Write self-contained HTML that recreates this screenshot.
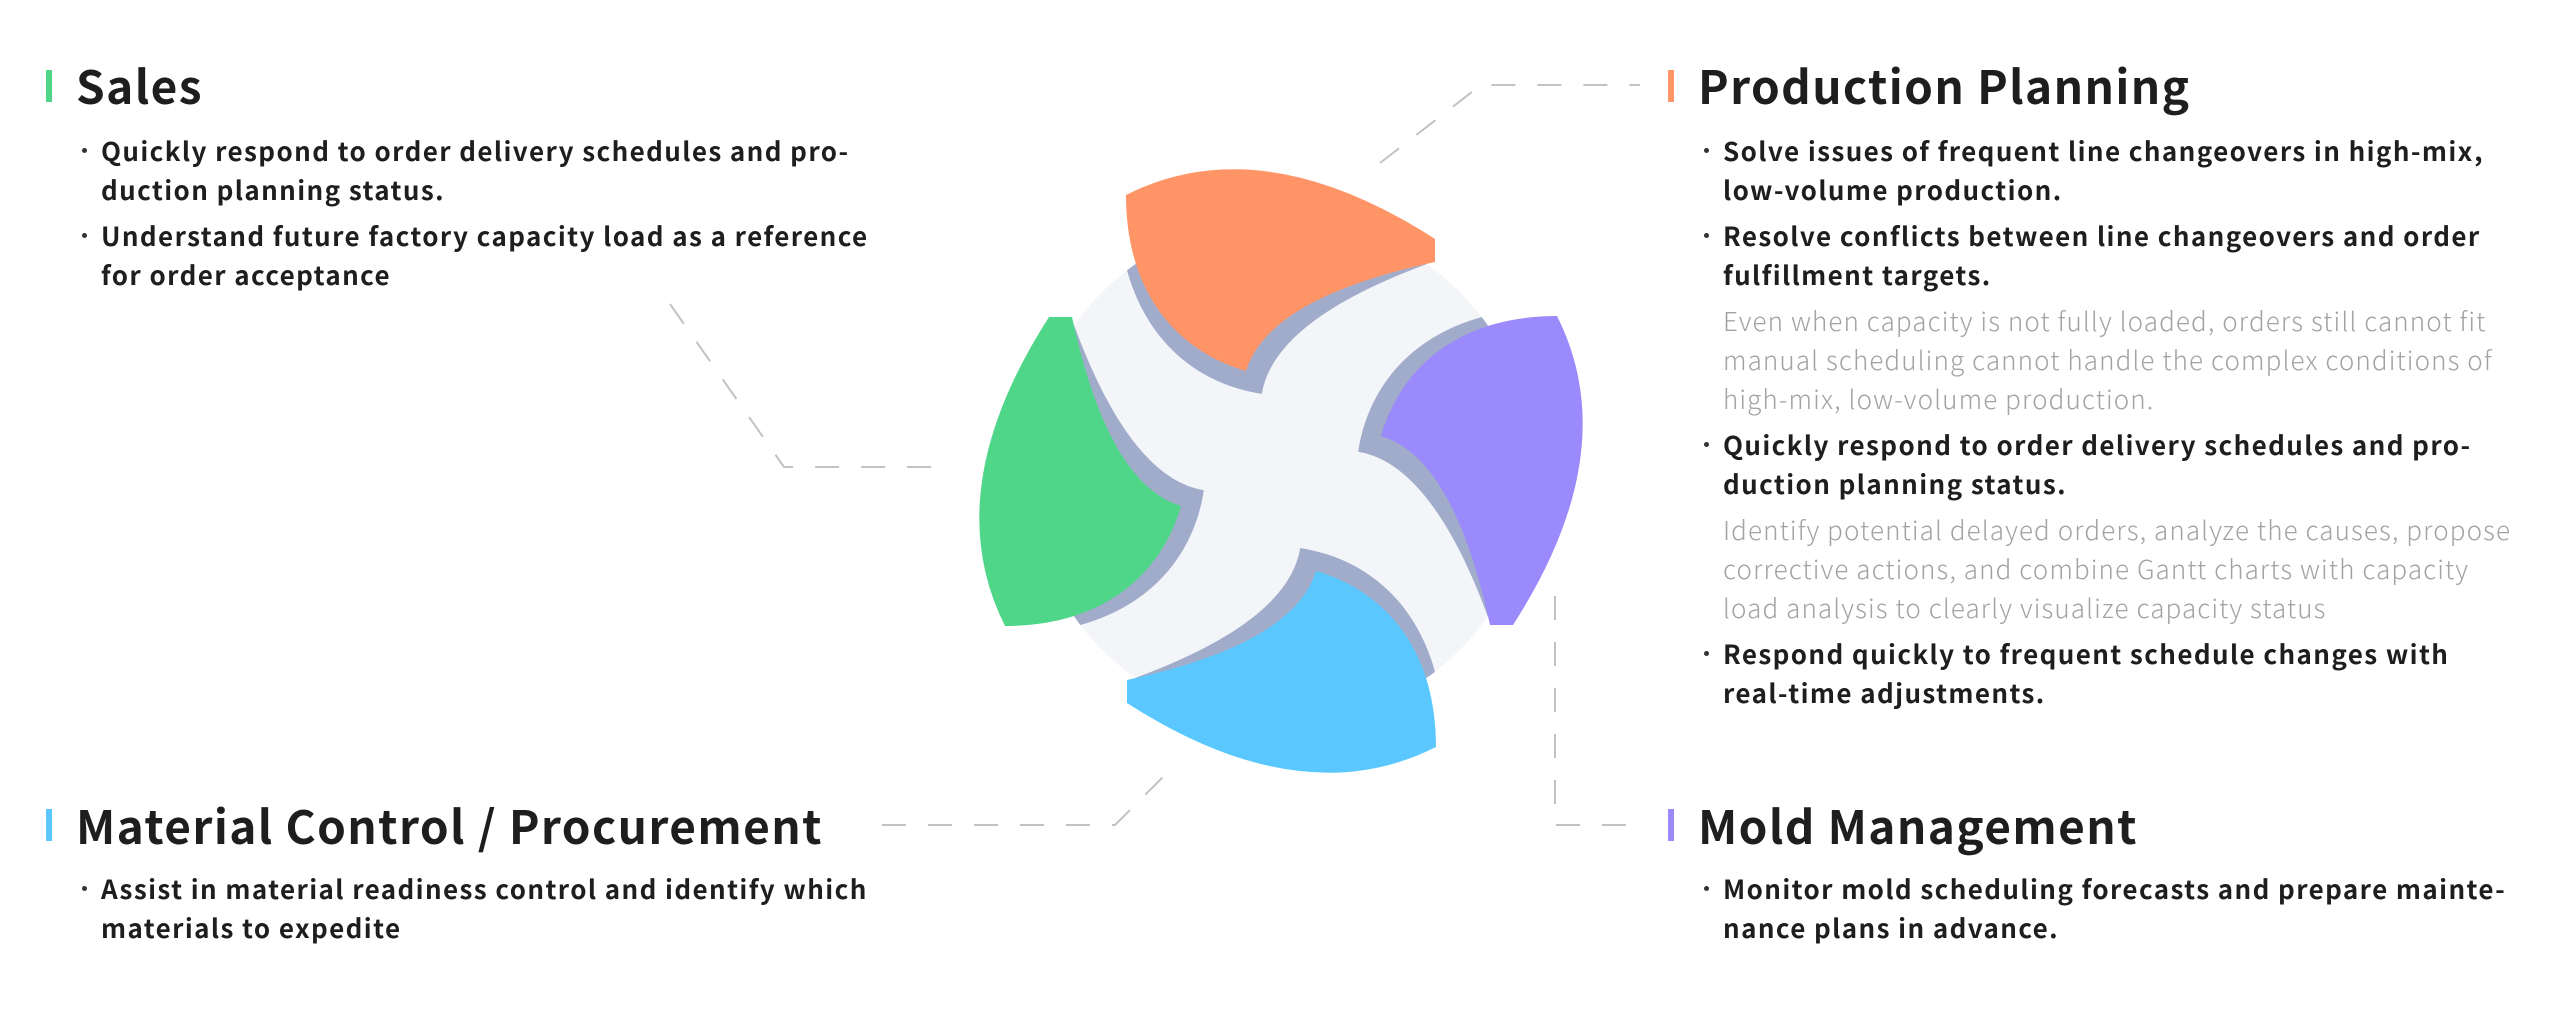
<!DOCTYPE html>
<html><head><meta charset="utf-8">
<style>
html,body{margin:0;padding:0;background:#fff;}
body{width:2560px;height:1025px;position:relative;overflow:hidden;font-family:"Noto Sans CJK JP","Liberation Sans",sans-serif;color:#1e1e1e;}
svg{position:absolute;left:0;top:0;}
.bar{position:absolute;width:6px;height:32px;}
.title{position:absolute;font-size:46px;font-weight:700;line-height:50px;letter-spacing:1.4px;white-space:nowrap;}
.list{position:absolute;white-space:nowrap;}
.item{position:relative;font-size:26px;font-weight:700;line-height:39px;letter-spacing:1.4px;margin-bottom:7px;}
.item:before{content:"";position:absolute;left:-19px;top:17px;width:5px;height:5px;border-radius:50%;background:#333;}
.note{font-size:26px;font-weight:300;line-height:39px;letter-spacing:1.1px;color:#a3a3a3;margin-bottom:7px;}
</style></head><body>
<svg width="2560" height="1025" viewBox="0 0 2560 1025">
<defs>
<clipPath id="cc"><circle cx="1281" cy="471" r="253"/></clipPath>
<path id="pet" d="M1126,195 Q1261,127 1435,239 L1435,262 Q1268,298 1246,371 C1180,352 1126,296 1126,195 Z"/>
<g id="sh"><use href="#pet" transform="rotate(-7.5 1428 262)"/></g>
</defs>
<g fill="none" stroke="#c2c2c2" stroke-width="2" stroke-dasharray="24 22">
<polyline points="1380,163 1481,85 1640,85"/>
<polyline points="670,304 784,467 946,467"/>
<polyline points="882,825 1115,825 1163,777"/>
<polyline points="1555,596 1555,825 1640,825"/>
</g>
<circle cx="1281" cy="471" r="253" fill="#f3f5f9"/>
<g clip-path="url(#cc)" fill="#a1accb">
<use href="#sh"/>
<use href="#sh" transform="rotate(-90 1281 471)"/>
<use href="#sh" transform="rotate(90 1281 471)"/>
<use href="#sh" transform="rotate(180 1281 471)"/>
</g>
<use href="#pet" fill="#ff9466"/>
<use href="#pet" fill="#4fd689" transform="rotate(-90 1281 471)"/>
<use href="#pet" fill="#9b8afb" transform="rotate(90 1281 471)"/>
<use href="#pet" fill="#5ac8ff" transform="rotate(180 1281 471)"/>
</svg>

<div class="bar" style="left:46px;top:70px;background:#4fd689"></div>
<div class="title" style="left:76px;top:60px">Sales</div>
<div class="list" style="left:101px;top:131px">
<div class="item">Quickly respond to order delivery schedules and pro-<br>duction planning status.</div>
<div class="item">Understand future factory capacity load as a reference<br>for order acceptance</div>
</div>

<div class="bar" style="left:1668px;top:70px;background:#ff9466"></div>
<div class="title" style="left:1698px;top:60px">Production Planning</div>
<div class="list" style="left:1723px;top:131px">
<div class="item">Solve issues of frequent line changeovers in high-mix,<br>low-volume production.</div>
<div class="item">Resolve conflicts between line changeovers and order<br>fulfillment targets.</div>
<div class="note">Even when capacity is not fully loaded, orders still cannot fit<br>manual scheduling cannot handle the complex conditions of<br>high-mix, low-volume production.</div>
<div class="item">Quickly respond to order delivery schedules and pro-<br>duction planning status.</div>
<div class="note">Identify potential delayed orders, analyze the causes, propose<br>corrective actions, and combine Gantt charts with capacity<br>load analysis to clearly visualize capacity status</div>
<div class="item">Respond quickly to frequent schedule changes with<br>real-time adjustments.</div>
</div>

<div class="bar" style="left:46px;top:809px;background:#5ac8ff"></div>
<div class="title" style="left:76px;top:800px">Material Control / Procurement</div>
<div class="list" style="left:101px;top:869px">
<div class="item">Assist in material readiness control and identify which<br>materials to expedite</div>
</div>

<div class="bar" style="left:1668px;top:809px;background:#9b8afb"></div>
<div class="title" style="left:1698px;top:800px">Mold Management</div>
<div class="list" style="left:1723px;top:869px">
<div class="item">Monitor mold scheduling forecasts and prepare mainte-<br>nance plans in advance.</div>
</div>
</body></html>
